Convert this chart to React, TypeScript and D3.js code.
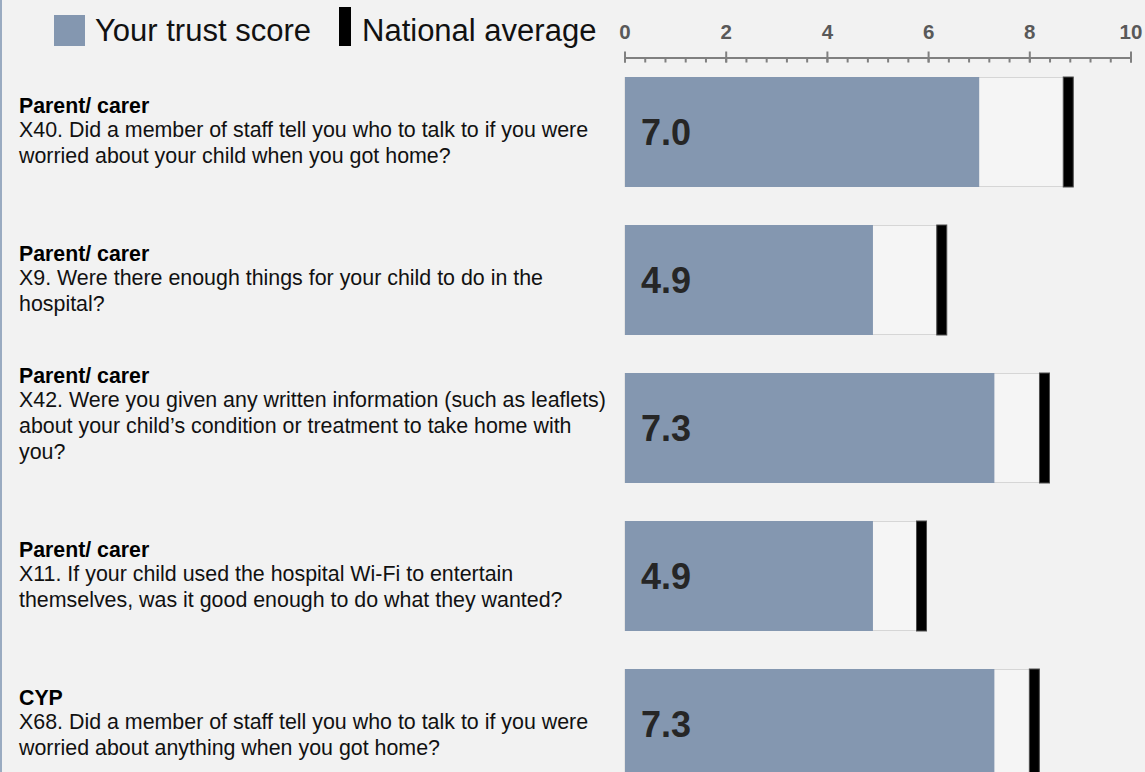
import { scaleLinear, scaleBand, range } from "d3";

// survey results
const respondents = ["Parent/ carer", "Parent/ carer", "Parent/ carer", "Parent/ carer", "CYP"];
const questionLines = [
  ["X40. Did a member of staff tell you who to talk to if you were", "worried about your child when you got home?"],
  ["X9. Were there enough things for your child to do in the", "hospital?"],
  ["X42. Were you given any written information (such as leaflets)", "about your child\u2019s condition or treatment to take home with", "you?"],
  ["X11. If your child used the hospital Wi-Fi to entertain", "themselves, was it good enough to do what they wanted?"],
  ["X68. Did a member of staff tell you who to talk to if you were", "worried about anything when you got home?"],
];
const trustScores = [7.0, 4.9, 7.3, 4.9, 7.3];
const nationalAverages = [8.76, 6.26, 8.29, 5.86, 8.09];
const tickLabels = ["0", "2", "4", "6", "8", "10"];

const W = 1145;
const H = 772;
const FONT = "'Liberation Sans', Arial, sans-serif";
const BAR = "#8497b0";

export default function App() {
  const ids = questionLines.map((_, i) => `q${i}`);

  const x = scaleLinear().domain([0, 10]).range([625, 1131]);
  const y = scaleBand()
    .domain(ids)
    .range([77, 77 + 148 * (5 - 38 / 148)])
    .paddingInner(38 / 148)
    .paddingOuter(0);
  const bw = y.bandwidth();

  const minor = range(0, 10.001, 0.4);

  return (
    <svg
      width={W}
      height={H}
      style={{ position: "absolute", left: 0, top: 0, background: "#f2f2f2" }}
      fontFamily={FONT}
    >
      <rect width={W} height={H} fill="#f2f2f2" />
      <line x1={1} x2={1} y1={0} y2={H} stroke="#9aabc1" strokeWidth={2} />

      {/* legend */}
      <rect x={54} y={15} width={31} height={31} fill={BAR} />
      <text x={95} y={41} fontSize={31} fill="#111">Your trust score</text>
      <rect x={339} y={7} width={12} height={39} fill="#000" />
      <text x={362} y={41} fontSize={31} fill="#111">National average</text>

      {/* axis */}
      <g>
        <line x1={x(0)} x2={x(10)} y1={58} y2={58} stroke="#808080" strokeWidth={2} />
        {minor.map((t) => (
          <line key={`m${t}`} x1={x(t)} x2={x(t)} y1={58} y2={62.5} stroke="#808080" strokeWidth={2} />
        ))}
        {tickLabels.map((l) => (
          <g key={l} transform={`translate(${x(+l)},0)`}>
            <line y1={51.5} y2={62.5} stroke="#808080" strokeWidth={2} />
            <text y={39} textAnchor="middle" fontSize={20.5} fontWeight="bold" fill="#595959">{l}</text>
          </g>
        ))}
      </g>

      {ids.map((id, i) => {
        const top = y(id)!;
        const lines = questionLines[i];
        const lastBase = top + bw - 24;
        const firstBase = lastBase - 26 * (lines.length - 1);
        const avgX = x(nationalAverages[i]);
        return (
          <g key={id}>
            <text x={19} y={firstBase - 24} fontSize={21.3} fontWeight="bold" fill="#000">{respondents[i]}</text>
            {lines.map((ln, j) => (
              <text key={j} x={19} y={firstBase + 26 * j} fontSize={21.4} fill="#111">{ln}</text>
            ))}
            <rect x={x(0)} y={top + 0.5} width={avgX - x(0)} height={bw - 1} fill="#f5f5f5" stroke="#d6d6d6" strokeWidth={1} />
            <rect x={x(0)} y={top} width={x(trustScores[i]) - x(0)} height={bw} fill={BAR} />
            <rect x={avgX - 5} y={top} width={10} height={bw} fill="#000" stroke="#4d4d4d" strokeWidth={1} />
            <text x={641} y={top + 68} fontSize={36} fontWeight="bold" fill="#262626">
              {trustScores[i].toFixed(1)}
            </text>
          </g>
        );
      })}
    </svg>
  );
}
